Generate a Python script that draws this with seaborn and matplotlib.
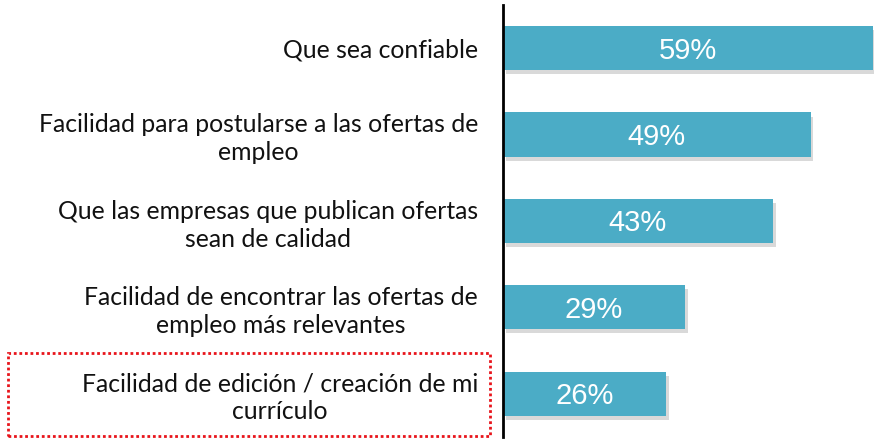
import matplotlib
matplotlib.use("Agg")
import matplotlib.pyplot as plt
import matplotlib.patheffects as pe
from matplotlib.patches import Rectangle
import seaborn as sns
import pandas as pd

# data
labels = [
    "Que sea confiable",
    "Facilidad para postularse a las ofertas de\nempleo",
    "Que las empresas que publican ofertas\nsean de calidad",
    "Facilidad de encontrar las ofertas de\nempleo más relevantes",
    "Facilidad de edición / creación de mi\ncurrículo",
]
values = [59, 49, 43, 29, 26]

df = pd.DataFrame({"label": labels, "value": values})

sns.set_style("white")
plt.rcParams["font.family"] = ["Lato", "DejaVu Sans"]

fig = plt.figure(figsize=(8.74, 4.40), dpi=100)
ax = fig.add_axes([0.5755, 0.007, 0.4245, 0.982])

sns.barplot(data=df, x="value", y="label", orient="h", color="#4BACC6",
            saturation=1, width=0.51, linewidth=0, edgecolor="none", ax=ax)

# soft drop shadow on bars
for bar in ax.patches:
    bar.set_path_effects([pe.SimplePatchShadow(offset=(2, -3), shadow_rgbFace="black", alpha=0.15),
                          pe.Normal()])

for i, v in enumerate(values):
    ax.text(v / 2, i + 0.03, f"{v}%", color="white", ha="center", va="center",
            fontsize=21, family="Liberation Sans")

ax.set_xlim(0, 59.1)
ax.set_ylim(4.5, -0.5)
ax.set_xlabel("")
ax.set_ylabel("")
ax.set_xticks([])
ax.set_yticks(range(len(labels)))
ax.set_yticklabels(labels, fontsize=17.8, multialignment="center", color="#111111",
                   linespacing=1.25)
ax.tick_params(axis="y", length=0, pad=18)
for s in ["top", "right", "bottom"]:
    ax.spines[s].set_visible(False)
ax.spines["left"].set_color("black")
ax.spines["left"].set_linewidth(2)

# red dotted highlight box around last label
fig.patches.append(Rectangle((8 / 874, 4 / 440), 482 / 874, 83 / 440,
                             transform=fig.transFigure, fill=False,
                             edgecolor="#E8141B", linestyle=(0, (1, 1)), linewidth=2))

fig.savefig("out.png", dpi=100)
